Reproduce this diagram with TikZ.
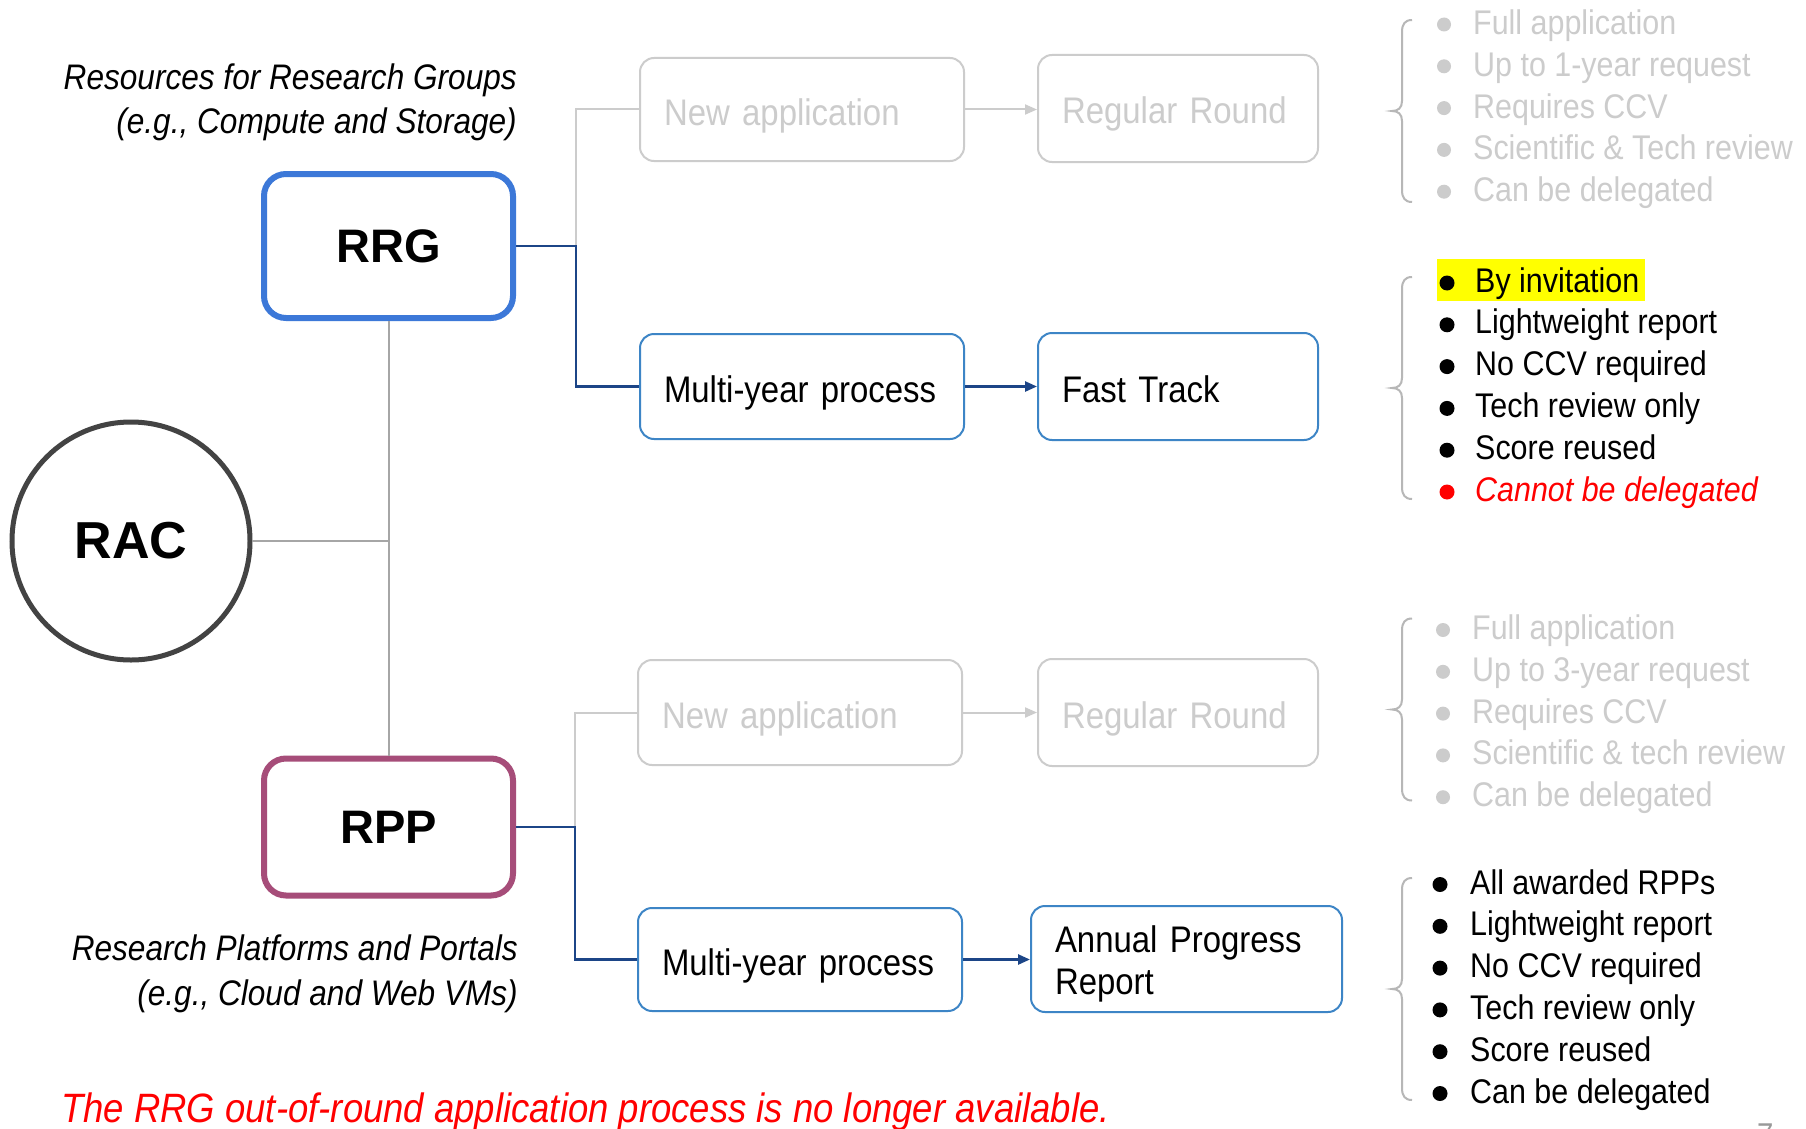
\documentclass[tikz,border=0pt]{standalone}
\usepackage{fontspec}
\setmainfont{Liberation Sans}
\newfontfamily\rc[FakeStretch=0.89]{Liberation Sans}
\usetikzlibrary{arrows.meta}
\definecolor{lg}{HTML}{CCCCCC}
\definecolor{brc}{HTML}{B7B7B7}
\definecolor{vg}{HTML}{A6A6A6}
\definecolor{rrgblue}{HTML}{3C78D8}
\definecolor{bblue}{HTML}{3D85C6}
\definecolor{dblue}{HTML}{1C4587}
\definecolor{rppc}{HTML}{A64D79}
\definecolor{racc}{HTML}{434343}
\definecolor{redc}{HTML}{FF0000}
\definecolor{hl}{HTML}{FFFF00}
\definecolor{pgc}{HTML}{999999}
\tikzset{
  pbox/.style={draw=bblue, line width=2pt, rounded corners=14pt,
    font=\rc\fontsize{37}{42}\selectfont, align=left, inner xsep=24pt,
    inner ysep=0pt, minimum height=105pt, text height=31pt, text depth=0pt},
  gbox/.style={pbox, draw=lg, text=lg},
  mainbox/.style={draw, line width=6pt, rounded corners=22pt, minimum width=249pt,
    minimum height=144pt, font=\bfseries\fontsize{47}{50}\selectfont},
  gline/.style={draw=lg, line width=2pt},
  dline/.style={draw=dblue, line width=2.5pt},
  vline/.style={draw=vg, line width=2pt},
  garrow/.style={gline, -{Triangle[length=12pt,width=10pt]}},
  darrow/.style={dline, -{Triangle[length=12pt,width=10pt]}},
  ltext/.style={anchor=base west, inner sep=0pt, font=\rc\fontsize{34.2}{40}\selectfont},
  ttext/.style={anchor=base east, inner sep=0pt, font=\rc\itshape\fontsize{35.5}{42}\selectfont},
  bracec/.style={draw=brc, line width=2pt},
}
\begin{document}
\begin{tikzpicture}[x=1pt,y=-1pt]
\useasboundingbox[fill=white] (0,0) rectangle (1806,1129);

% titles
\node[ttext] (t1) at (517,90) {Resources for Research Groups};
\node[ttext] (t2) at (517,134) {(e.g., Compute and Storage)};
\node[ttext] (t3) at (518,960) {Research Platforms and Portals};
\node[ttext] (t4) at (518,1005) {(e.g., Cloud and Web VMs)};
\node[anchor=base west, inner sep=0pt, text=redc, font=\rc\itshape\fontsize{41}{46}\selectfont] (red) at (61,1122) {The RRG out-of-round application process is no longer available.};

% main nodes
\node[mainbox, draw=rrgblue] (rrg) at (388.5,246) {RRG};
\node[mainbox, draw=rppc, minimum height=137pt] (rpp) at (388.5,827) {RPP};
\node[circle, draw=racc, line width=5pt, minimum size=238pt, font=\bfseries\fontsize{52}{56}\selectfont] (rac) at (131,541) {RAC};

\draw[vline] (rrg.south) -- (rpp.north);
\draw[vline] (rac.east) -- (rac.east -| rrg.south);

% process boxes
\node[gbox, text width=276pt, minimum height=103pt] (na1) at (802,109.5) {New application};
\node[gbox, text width=232pt, minimum height=107pt] (rr1) at (1178,108.5) {Regular Round};
\node[pbox, text width=276pt] (my1) at (802,386.5) {Multi-year process};
\node[pbox, text width=232pt, minimum height=107pt] (ft) at (1178,386.5) {Fast Track};
\node[gbox, text width=276pt] (na2) at (800,712.5) {New application};
\node[gbox, text width=232pt, minimum height=107pt] (rr2) at (1178,712.5) {Regular Round};
\node[pbox, text width=276pt, minimum height=103pt] (my2) at (800,959.5) {Multi-year process};
\node[pbox, text width=263pt, minimum height=106pt, text height=28pt, text depth=42pt] (apr) at (1186.5,959) {Annual Progress\\Report};

% connectors
\coordinate (j1) at (576,246);
\coordinate (j2) at (575,827);
\draw[gline] (j1) |- (na1.west);
\draw[dline] (rrg.east) -- (j1) |- (my1.west);
\draw[gline] (j2) |- (na2.west);
\draw[dline] (rpp.east) -- (j2) |- (my2.west);
\draw[garrow] (na1.east) -- (rr1.west |- na1.east);
\draw[darrow] (my1.east) -- (ft.west |- my1.east);
\draw[garrow] (na2.east) -- (rr2.west |- na2.east);
\draw[darrow] (my2.east) -- (apr.west |- my2.east);

% braces
\foreach \top/\bot [count=\k] in {20/202, 277/499, 618.5/800.5, 878/1100} {
  \draw[bracec] (1412,\top) .. controls (1405,\top) and (1402,\top+4) .. (1402,\top+12)
    -- (1402,{(\top+\bot)/2-10}) .. controls (1402,{(\top+\bot)/2-3}) and (1398,{(\top+\bot)/2}) .. (1392,{(\top+\bot)/2})
    .. controls (1398,{(\top+\bot)/2}) and (1402,{(\top+\bot)/2+3}) .. (1402,{(\top+\bot)/2+10})
    -- (1402,\bot-12) .. controls (1402,\bot-4) and (1405,\bot) .. (1412,\bot);
}

% highlight
\fill[hl] (1437,259) rectangle (1645,301);

% list 1
\foreach \t [count=\i from 0] in {Full application, Up to 1-year request, Requires CCV, Scientific \& Tech review, Can be delegated} {
  \fill[lg] (1444,{24.5+41.8*\i}) circle (7pt);
  \node[ltext, text=lg] (la\i) at (1473,{34.5+41.8*\i}) {\t};
}
% list 2
\foreach \t [count=\i from 0] in {By invitation, Lightweight report, No CCV required, Tech review only, Score reused} {
  \fill[black] (1447,{283+41.8*\i}) circle (7.5pt);
  \node[ltext] (lb\i) at (1475,{292+41.8*\i}) {\t};
}
\fill[redc] (1447,492) circle (7.5pt);
\node[ltext, text=redc, font=\rc\itshape\fontsize{34.2}{40}\selectfont] (lb5) at (1475,501) {Cannot be delegated};
% list 3
\foreach \t [count=\i from 0] in {Full application, Up to 3-year request, Requires CCV, Scientific \& tech review, Can be delegated} {
  \fill[lg] (1443,{630+41.8*\i}) circle (7pt);
  \node[ltext, text=lg] (lc\i) at (1472,{639.5+41.8*\i}) {\t};
}
% list 4
\foreach \t [count=\i from 0] in {All awarded RPPs, Lightweight report, No CCV required, Tech review only, Score reused, Can be delegated} {
  \fill[black] (1440,{884.5+41.8*\i}) circle (7.5pt);
  \node[ltext] (ld\i) at (1470,{894+41.8*\i}) {\t};
}

% page number
\node[anchor=north west, inner sep=0pt, text=pgc, font=\rc\fontsize{33}{36}\selectfont] (pg) at (1757,1124) {7};
\end{tikzpicture}
\end{document}
